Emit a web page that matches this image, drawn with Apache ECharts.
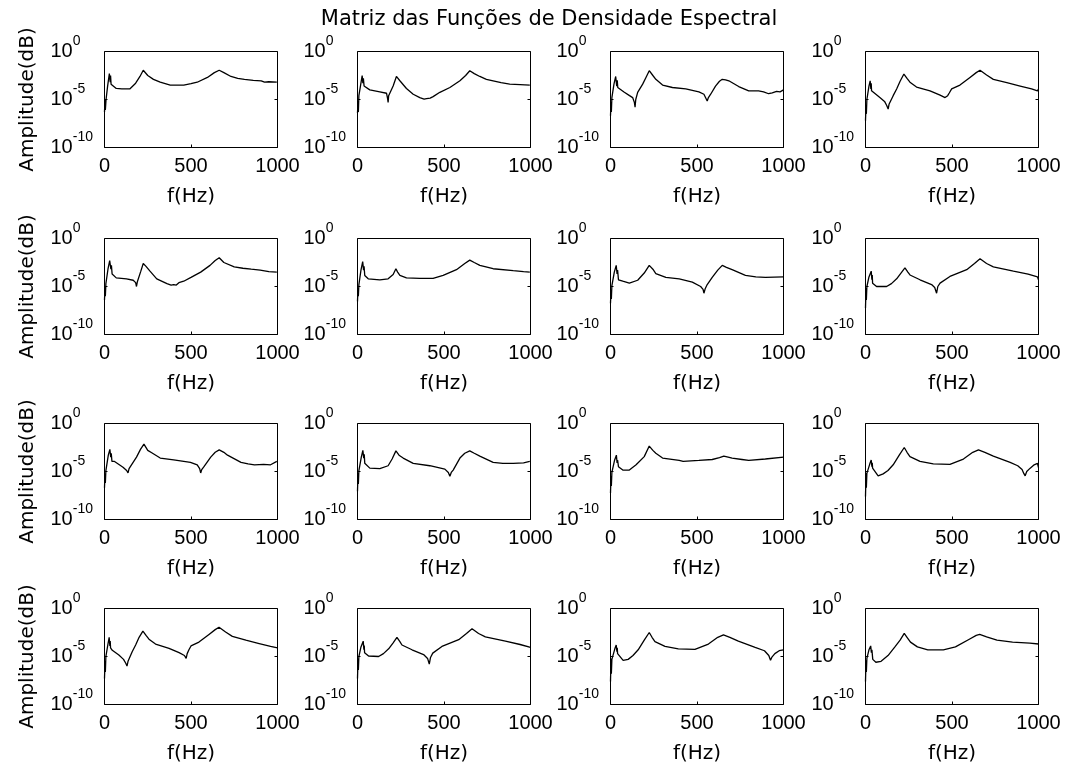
<!DOCTYPE html>
<html>
<head>
<meta charset="utf-8">
<script src="https://cdn.jsdelivr.net/npm/echarts@6/dist/echarts.min.js"></script>
<style>
  html, body { margin: 0; padding: 0; background: #fff; }
  #chart { width: 1067px; height: 772px; }
</style>
</head>
<body>
<div id="chart"></div>
<script>
// Spectral density matrix: 4 x 4 panels, amplitude on a log scale vs frequency.
const chartTitle = 'Matriz das Funções de Densidade Espectral';
const xAxisName = 'f(Hz)';
const yAxisName = 'Amplitude(dB)';
const freqTicks = [0, 500, 1000];      // Hz
const ampTickExps = [-10, -5, 0];      // powers of ten

// Each curve: [frequency (Hz), log10(amplitude)]
const s11 = [[0,-6.3],[3,-5.0],[5,-6.1],[9,-5.0],[18,-3.6],[28,-2.3],[31,-2.1],[33,-3.2],[35,-2.5],[38,-3.4],[49,-3.6],[68,-3.85],[100,-3.9],[146,-3.9],[180,-3.3],[205,-2.6],[224,-1.95],[250,-2.5],[283,-2.9],[322,-3.2],[380,-3.5],[420,-3.5],[458,-3.5],[500,-3.35],[536,-3.2],[595,-2.7],[635,-2.2],[663,-1.95],[690,-2.2],[731,-2.6],[770,-2.8],[809,-2.9],[860,-3.0],[906,-3.05],[925,-3.2],[950,-3.15],[996,-3.2]];
const s12 = [[0,-6.4],[3,-5.2],[5,-6.3],[8,-4.6],[18,-3.5],[27,-2.5],[29,-2.45],[31,-3.3],[34,-2.8],[38,-3.6],[42,-3.65],[71,-4.0],[129,-4.2],[168,-4.35],[174,-4.9],[177,-5.3],[180,-4.6],[187,-4.45],[206,-3.6],[225,-2.6],[245,-3.05],[283,-3.85],[322,-4.45],[360,-4.8],[385,-4.95],[399,-4.9],[410,-5.0],[420,-4.85],[437,-4.7],[476,-4.25],[534,-3.75],[592,-3.05],[625,-2.5],[649,-2.0],[675,-2.3],[707,-2.6],[745,-2.9],[784,-3.05],[830,-3.25],[880,-3.4],[940,-3.45],[996,-3.5]];
const s13 = [[0,-6.7],[3,-5.3],[5,-6.3],[8,-4.8],[20,-3.4],[30,-2.6],[33,-2.6],[36,-3.6],[39,-3.0],[42,-3.75],[50,-3.65],[80,-4.25],[110,-4.6],[128,-4.8],[138,-5.3],[142,-5.8],[146,-5.0],[157,-4.25],[186,-3.4],[205,-2.7],[224,-2.0],[245,-2.5],[262,-2.9],[301,-3.5],[358,-3.75],[435,-3.9],[511,-4.2],[540,-4.45],[550,-4.6],[559,-5.15],[566,-4.8],[579,-4.45],[607,-3.6],[630,-3.1],[646,-2.9],[665,-2.95],[684,-3.05],[741,-3.65],[799,-4.1],[856,-4.1],[885,-4.2],[914,-4.4],[935,-4.3],[960,-4.15],[980,-4.2],[1000,-4.0]];
const s14 = [[0,-7.2],[3,-5.6],[5,-6.5],[8,-5.0],[20,-3.6],[27,-3.05],[29,-3.05],[31,-3.9],[33,-3.3],[35,-4.1],[45,-4.3],[83,-4.8],[110,-5.2],[122,-5.6],[131,-6.0],[136,-5.5],[141,-5.4],[160,-4.6],[180,-3.9],[200,-3.1],[222,-2.35],[240,-2.8],[257,-3.2],[295,-3.7],[373,-4.1],[431,-4.55],[460,-4.8],[469,-5.0],[475,-4.6],[485,-4.3],[498,-3.9],[546,-3.5],[604,-2.7],[640,-2.2],[662,-1.95],[700,-2.45],[739,-2.9],[817,-3.25],[894,-3.6],[960,-3.9],[994,-4.1],[1000,-3.9]];

const s21 = [[0,-6.4],[3,-5.0],[5,-6.0],[8,-4.7],[20,-3.2],[30,-2.3],[35,-2.2],[37,-3.2],[40,-2.8],[44,-3.7],[49,-3.75],[68,-4.1],[127,-4.2],[166,-4.35],[180,-4.6],[185,-5.0],[190,-4.5],[195,-4.3],[210,-3.4],[224,-2.6],[240,-2.9],[263,-3.4],[302,-4.2],[361,-4.7],[385,-4.85],[400,-4.8],[415,-4.85],[430,-4.6],[458,-4.45],[500,-4.05],[556,-3.5],[610,-2.8],[640,-2.3],[663,-2.0],[690,-2.5],[750,-2.95],[800,-3.1],[848,-3.2],[900,-3.3],[950,-3.45],[996,-3.5]];
const s22 = [[0,-6.55],[3,-5.15],[5,-6.0],[8,-4.8],[20,-3.3],[30,-2.4],[33,-2.35],[35,-3.3],[38,-2.9],[42,-3.85],[62,-4.2],[129,-4.3],[177,-4.2],[206,-3.75],[222,-3.15],[232,-3.5],[245,-3.85],[283,-4.1],[360,-4.15],[437,-4.15],[495,-3.85],[572,-3.25],[620,-2.6],[649,-2.25],[675,-2.5],[707,-2.8],[784,-3.15],[900,-3.35],[960,-3.45],[996,-3.5]];
const s23 = [[0,-6.75],[3,-5.35],[5,-6.3],[8,-4.9],[22,-3.5],[33,-2.8],[36,-2.8],[38,-3.7],[41,-3.3],[46,-4.3],[71,-4.45],[109,-4.65],[157,-4.35],[195,-3.6],[224,-2.8],[245,-3.2],[262,-3.65],[320,-4.05],[397,-4.2],[473,-4.55],[521,-5.0],[535,-5.3],[540,-5.7],[548,-5.2],[559,-4.8],[588,-4.05],[620,-3.3],[646,-2.8],[670,-3.0],[703,-3.25],[780,-3.85],[840,-4.0],[895,-4.05],[1000,-4.0]];
const s24 = [[0,-7.25],[3,-5.15],[5,-6.4],[8,-5.0],[20,-4.0],[33,-3.4],[35,-3.4],[37,-4.3],[39,-3.8],[41,-4.65],[64,-5.0],[122,-5.0],[150,-4.7],[180,-4.2],[205,-3.6],[228,-3.05],[245,-3.5],[257,-3.8],[315,-4.3],[382,-4.8],[400,-5.1],[411,-5.7],[418,-5.0],[431,-4.65],[488,-3.95],[585,-3.25],[630,-2.6],[662,-2.1],[700,-2.6],[739,-2.95],[855,-3.4],[940,-3.7],[994,-4.0],[1000,-4.3]];

const s31 = [[0,-6.7],[3,-5.2],[5,-6.2],[8,-4.9],[22,-3.3],[31,-2.7],[33,-2.65],[36,-3.5],[39,-3.1],[43,-3.95],[58,-3.95],[107,-4.55],[128,-4.9],[136,-5.15],[142,-4.7],[156,-4.3],[185,-3.5],[208,-2.7],[228,-2.15],[250,-2.8],[273,-3.05],[322,-3.6],[400,-3.8],[497,-4.05],[536,-4.3],[550,-4.7],[556,-5.15],[562,-4.8],[575,-4.5],[614,-3.5],[640,-3.0],[663,-2.75],[690,-3.0],[711,-3.3],[789,-4.05],[830,-4.2],[867,-4.3],[920,-4.25],[960,-4.3],[996,-3.95]];
const s32 = [[0,-7.05],[3,-5.15],[5,-6.3],[8,-4.9],[22,-3.5],[31,-2.8],[33,-2.75],[36,-3.6],[39,-3.2],[42,-4.15],[71,-4.65],[129,-4.7],[177,-4.4],[200,-3.7],[222,-2.85],[240,-3.3],[264,-3.6],[322,-4.15],[418,-4.4],[505,-4.75],[525,-5.1],[534,-5.5],[542,-5.1],[553,-4.85],[592,-3.6],[620,-3.1],[649,-2.85],[675,-3.1],[707,-3.4],[784,-4.05],[840,-4.15],[900,-4.15],[960,-4.1],[996,-3.95]];
const s33 = [[0,-7.25],[3,-5.5],[5,-6.5],[8,-5.1],[24,-3.8],[34,-3.3],[36,-3.3],[38,-4.1],[41,-3.8],[46,-4.5],[71,-4.85],[109,-4.85],[148,-4.3],[195,-3.45],[224,-2.35],[245,-2.8],[262,-3.1],[301,-3.6],[397,-3.85],[420,-3.95],[511,-3.85],[588,-3.75],[630,-3.55],[655,-3.4],[680,-3.5],[703,-3.6],[760,-3.75],[799,-3.85],[810,-3.95],[895,-3.7],[1000,-3.5]];
const s34 = [[0,-7.6],[3,-5.15],[5,-6.7],[8,-5.2],[25,-4.2],[33,-3.8],[35,-3.8],[37,-4.5],[39,-4.1],[41,-4.65],[73,-5.45],[102,-5.25],[130,-4.9],[160,-4.3],[195,-3.3],[224,-2.5],[240,-3.0],[257,-3.45],[315,-3.95],[392,-4.2],[488,-4.25],[566,-3.7],[620,-3.0],[653,-2.75],[690,-3.0],[739,-3.4],[836,-4.05],[880,-4.4],[905,-4.8],[915,-5.2],[923,-5.45],[932,-5.0],[952,-4.65],[975,-4.3],[994,-4.15],[1000,-4.6]];

const s41 = [[0,-7.3],[3,-5.5],[5,-6.6],[8,-5.0],[20,-3.7],[27,-3.0],[29,-3.0],[31,-3.9],[33,-3.4],[35,-4.1],[45,-4.35],[83,-4.85],[110,-5.3],[123,-5.7],[130,-6.0],[136,-5.5],[141,-5.3],[160,-4.5],[180,-3.8],[200,-3.0],[222,-2.35],[240,-2.8],[257,-3.2],[295,-3.7],[373,-4.15],[431,-4.6],[462,-4.9],[472,-5.2],[478,-4.7],[488,-4.3],[500,-3.9],[546,-3.5],[604,-2.7],[640,-2.2],[662,-1.95],[700,-2.45],[739,-2.9],[817,-3.3],[894,-3.65],[960,-3.95],[1000,-4.1]];
const s42 = [[0,-7.3],[3,-5.2],[5,-6.4],[8,-5.0],[20,-4.0],[33,-3.4],[35,-3.45],[37,-4.3],[39,-3.85],[41,-4.6],[64,-4.95],[122,-5.0],[150,-4.7],[180,-4.2],[205,-3.6],[228,-3.0],[245,-3.45],[257,-3.8],[315,-4.3],[382,-4.8],[405,-5.2],[415,-5.8],[422,-5.1],[435,-4.65],[488,-3.95],[585,-3.25],[630,-2.6],[662,-2.1],[700,-2.6],[739,-2.95],[855,-3.4],[940,-3.75],[1000,-4.05]];
const s43 = [[0,-7.6],[3,-5.2],[5,-6.8],[8,-5.3],[25,-4.2],[33,-3.8],[35,-3.85],[37,-4.5],[39,-4.1],[41,-4.7],[73,-5.4],[102,-5.3],[130,-4.9],[160,-4.3],[195,-3.3],[224,-2.5],[240,-3.0],[257,-3.45],[315,-3.95],[392,-4.2],[488,-4.25],[566,-3.7],[620,-3.0],[653,-2.75],[690,-3.0],[739,-3.4],[836,-4.05],[890,-4.4],[915,-4.9],[925,-5.4],[932,-5.1],[950,-4.7],[975,-4.4],[1000,-4.3]];
const s44 = [[0,-7.6],[3,-5.4],[5,-6.6],[8,-5.2],[20,-4.3],[30,-3.9],[32,-3.9],[34,-4.6],[37,-4.3],[42,-5.3],[60,-5.6],[90,-5.5],[130,-4.9],[170,-4.0],[200,-3.3],[224,-2.6],[240,-3.0],[260,-3.5],[300,-4.0],[360,-4.3],[450,-4.3],[520,-4.0],[600,-3.2],[640,-2.8],[660,-2.7],[700,-2.95],[760,-3.3],[850,-3.5],[950,-3.6],[1000,-3.7]];

const curves = [
  [s11, s12, s13, s14],
  [s21, s22, s23, s24],
  [s31, s32, s33, s34],
  [s41, s42, s43, s44]
];

// Panel layout (pixels)
const colLeft = [104.5, 357.5, 610.5, 865.5];
const rowTop = [51.5, 238.5, 423.5, 608.5];
const panelW = 173;
const panelH = 96;

const numFont = '"Liberation Sans", Arial, sans-serif';
const textFont = '"DejaVu Sans", sans-serif';

const grids = [], xAxes = [], yAxes = [], series = [];
const yMin = Math.pow(10, ampTickExps[0]);
const yMax = Math.pow(10, ampTickExps[ampTickExps.length - 1]);
const yStep = ampTickExps[1] - ampTickExps[0];

for (let r = 0; r < 4; r++) {
  for (let c = 0; c < 4; c++) {
    const g = grids.length;
    grids.push({
      left: colLeft[c], top: rowTop[r], width: panelW, height: panelH,
      show: true, borderColor: '#000', borderWidth: 1, backgroundColor: 'transparent'
    });
    xAxes.push({
      gridIndex: g, type: 'value',
      min: freqTicks[0], max: freqTicks[freqTicks.length - 1], interval: freqTicks[1] - freqTicks[0],
      axisLine: { show: false },
      axisTick: { show: true, inside: true, length: 3, lineStyle: { color: '#000' } },
      splitLine: { show: false },
      axisLabel: { margin: 9, color: '#000', fontFamily: numFont, fontSize: 20, formatter: v => String(v) },
      name: xAxisName, nameLocation: 'middle', nameGap: 39,
      nameTextStyle: { color: '#000', fontFamily: textFont, fontSize: 20 }
    });
    const yi = yAxes.length;
    yAxes.push({
      gridIndex: g, type: 'log', logBase: 10,
      min: yMin, max: yMax, interval: yStep,
      axisLine: { show: false },
      axisTick: { show: true, inside: true, length: 3, lineStyle: { color: '#000' } },
      splitLine: { show: false },
      axisLabel: {
        align: 'left', margin: 54, color: '#000',
        formatter: v => '{b|10}{s|' + Math.round(Math.log10(v)) + '}',
        rich: {
          b: { fontFamily: numFont, fontSize: 20, lineHeight: 20, verticalAlign: 'middle', color: '#000' },
          s: { fontFamily: numFont, fontSize: 14, lineHeight: 14, padding: [0, 0, 20, 0], verticalAlign: 'middle', color: '#000' }
        }
      },
      name: c === 0 ? yAxisName : '', nameLocation: 'middle', nameGap: 67,
      nameTextStyle: { color: '#000', fontFamily: textFont, fontSize: 20 }
    });
    // mirrored ticks on the right edge of the box
    yAxes.push({
      gridIndex: g, type: 'log', logBase: 10, position: 'right',
      min: yMin, max: yMax, interval: yStep,
      axisLine: { show: false },
      axisTick: { show: true, inside: true, length: 3, lineStyle: { color: '#000' } },
      splitLine: { show: false },
      axisLabel: { show: false }
    });
    series.push({
      type: 'line', xAxisIndex: g, yAxisIndex: yi,
      data: curves[r][c].map(([f, e]) => [f, Math.pow(10, e)]),
      showSymbol: false, symbol: 'none', clip: true, silent: true,
      lineStyle: { color: '#000', width: 1.3 }
    });
  }
}

const chart = echarts.init(document.getElementById('chart'), null, { renderer: 'canvas' });
chart.setOption({
  animation: false,
  backgroundColor: '#fff',
  grid: grids,
  xAxis: xAxes,
  yAxis: yAxes,
  series: series,
  graphic: [{
    type: 'text', x: 549, y: 20,
    style: { text: chartTitle, font: '21px "DejaVu Sans", sans-serif', fill: '#000', align: 'center', verticalAlign: 'middle' }
  }]
});
</script>
</body>
</html>
